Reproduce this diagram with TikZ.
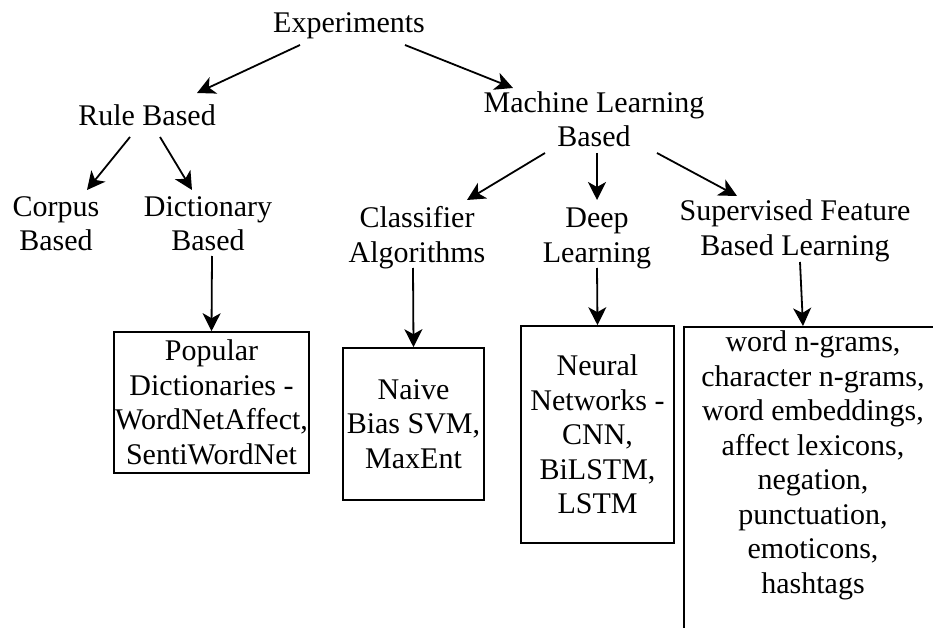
\documentclass[tikz,border=0pt]{standalone}
\usepackage{fontspec}
\setmainfont{Liberation Serif}
\usetikzlibrary{arrows.meta,calc}
\begin{document}
\begin{tikzpicture}[x=1pt,y=-1pt,
  txt/.style={font=\fontsize{30}{34.5}\selectfont},
  lbl/.style={txt, align=center, inner sep=0pt, anchor=base},
  boxed/.style={txt, draw, line width=1.6pt, align=center, inner sep=0pt},
  arr/.style={line width=1.8pt, -{Stealth[length=18pt,width=18pt,inset=5pt]}}]
\useasboundingbox (0,0) rectangle (933,628);
\clip (0,0) rectangle (933,628);
\fill[white] (0,0) rectangle (933,628);

% tree labels (placed at the baseline of their last line)
\node[lbl] (exp)    at (349,33)  {Experiments};
\node[lbl] (rule)   at (147,126) {Rule Based};
\node[lbl] (ml)     at (594,147) {Machine Learning\\Based};
\node[lbl] (corpus) at (56,251)  {Corpus\\Based};
\node[lbl] (dict)   at (208,251) {Dictionary\\Based};
\node[lbl] (clf)    at (417,262) {Classifier\\Algorithms};
\node[lbl] (deep)   at (597,262) {Deep\\Learning};
\node[lbl] (sup)    at (795,255) {Supervised Feature\\Based Learning};

% leaf boxes
\node[boxed, minimum width=195pt, minimum height=141pt] (box1) at (211.5,402.5)
  {Popular\\Dictionaries -\\WordNetAffect,\\SentiWordNet};
\node[boxed, minimum width=141pt, minimum height=152pt] (box2) at (413.5,424)
  {Naive\\Bias SVM,\\MaxEnt};
\node[boxed, minimum width=153pt, minimum height=217pt] (box3) at (597.5,434.5)
  {Neural\\Networks -\\CNN,\\BiLSTM,\\LSTM};
\node[draw, line width=1.6pt, inner sep=0pt, anchor=north west,
      minimum width=262pt, minimum height=330pt] (box4) at (683,326) {};
\node[lbl] (feats) at (813,593)
  {word n-grams,\\character n-grams,\\word embeddings,\\affect lexicons,\\negation,\\punctuation,\\emoticons,\\hashtags};

% connectors
\draw[arr] ($(exp.base)+(-49,12)$)  -- ($(rule.base)+(50,-33)$);
\draw[arr] ($(exp.base)+(56,12)$)   -- ($(ml.base)+(-81,-59)$);
\draw[arr] ($(rule.base)+(-17,11)$) -- ($(corpus.base)+(31,-61)$);
\draw[arr] ($(rule.base)+(13,11)$)  -- ($(dict.base)+(-16,-61)$);
\draw[arr] ($(dict.base)+(4,5)$)    -- (box1.north);
\draw[arr] ($(ml.base)+(-49,6)$)    -- ($(clf.base)+(50,-62)$);
\draw[arr] ($(ml.base)+(3,6)$)      -- ($(deep.base)+(0,-62)$);
\draw[arr] ($(ml.base)+(63,6)$)     -- ($(sup.base)+(-58,-59)$);
\draw[arr] ($(clf.base)+(-4,6)$)    -- (box2.north);
\draw[arr] ($(deep.base)+(0,6)$)    -- (box3.north);
\draw[arr] ($(sup.base)+(5,7)$)     -- ($(box4.north west)+(120,0)$);
\end{tikzpicture}
\end{document}
